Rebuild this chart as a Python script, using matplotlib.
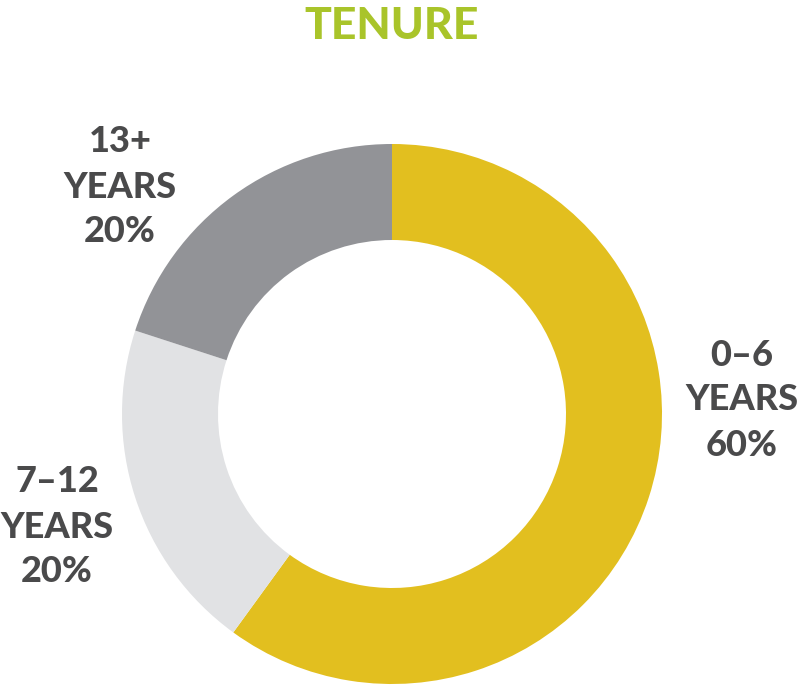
import matplotlib
matplotlib.use('Agg')
import matplotlib.pyplot as plt

# Tenure split
categories = ['0–6 YEARS', '7–12 YEARS', '13+ YEARS']
shares = [60, 20, 20]
colors = ['#e2bf1f', '#e1e2e4', '#929397']

W, H = 805, 686
fig = plt.figure(figsize=(W / 100, H / 100), dpi=100)
ax = fig.add_axes([0, 0, 1, 1])
ax.set_xlim(0, W)
ax.set_ylim(H, 0)
ax.axis('off')

cx, cy, r_out, r_in = 392, 414, 270, 174

ax2 = fig.add_axes([0, 0, 1, 1])
ax2.pie(shares, colors=colors, startangle=90, counterclock=False,
        center=(cx, H - cy), radius=r_out, frame=True,
        wedgeprops=dict(width=r_out - r_in, linewidth=0))
ax2.set_xlim(0, W)
ax2.set_ylim(0, H)
ax2.axis('off')

font = 'Lato'
text_color = '#4a4a4b'

ax.text(392, 39, 'TENURE', ha='center', va='baseline', fontsize=32,
        fontweight='black', color='#a9c42a', family=font)

# label anchors (pixel coords of the middle line)
label_pos = [(742, 400), (57, 527), (120, 187)]
line_gap = 45
for cat, val, (x, y) in zip(categories, shares, label_pos):
    first, second = cat.split(' ')
    lines = [first, second, f'{val}%']
    for i, s in enumerate(lines):
        ax.text(x, y + (i - 1) * line_gap, s, ha='center', va='center',
                fontsize=26, fontweight='black', color=text_color, family=font)

fig.savefig('out.png', dpi=100, facecolor='white')
